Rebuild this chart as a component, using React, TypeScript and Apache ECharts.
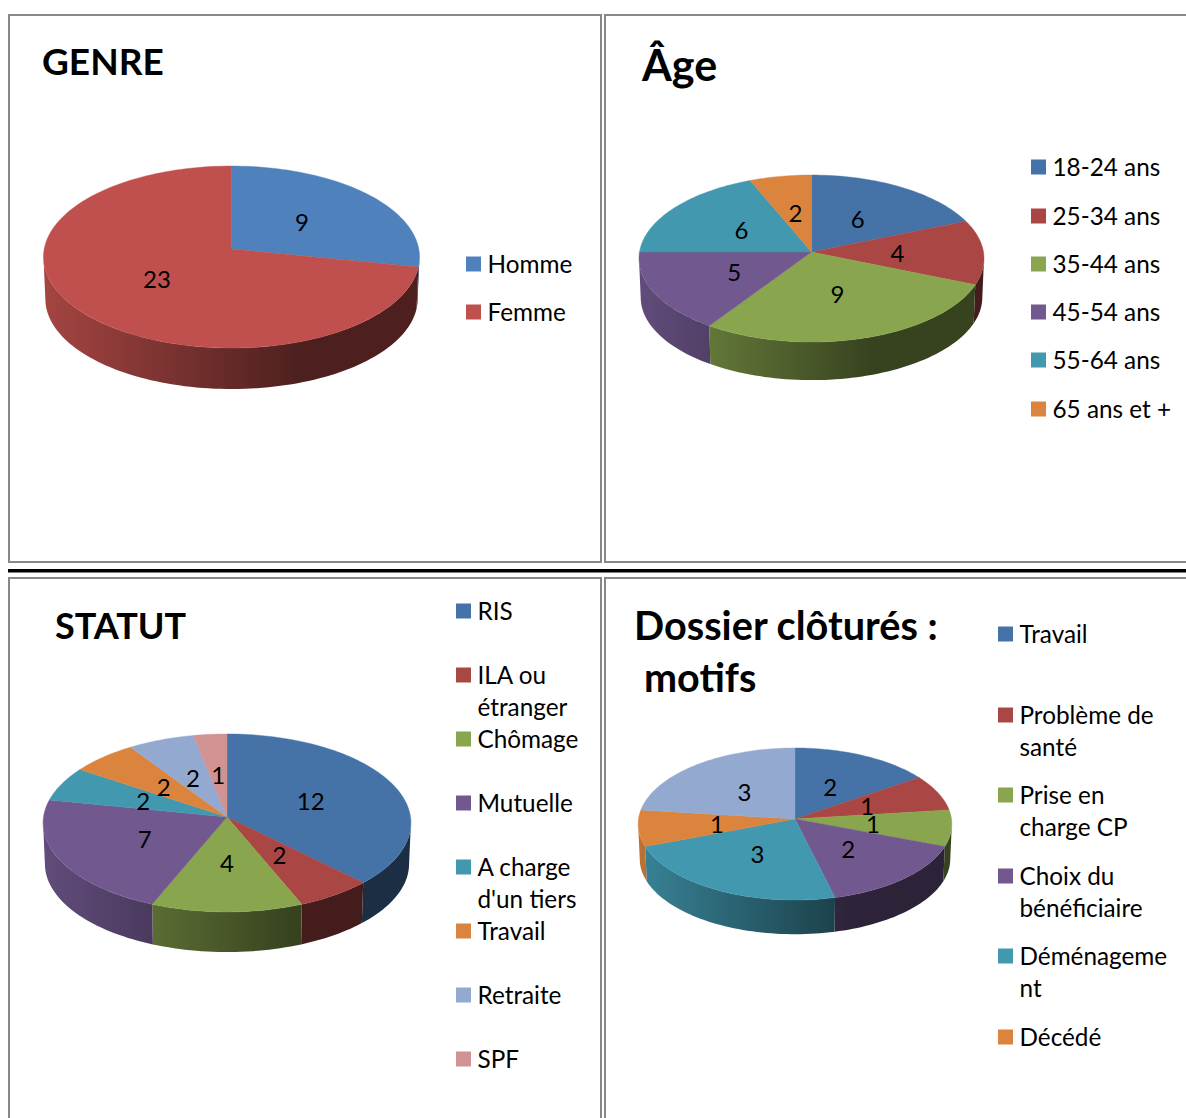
import React, { useEffect, useRef } from "react";
import * as echarts from "echarts";

const PALETTE = ["#4572A7", "#AA4643", "#89A54E", "#71588F", "#4198AF", "#DB843D", "#93A9CF", "#D19392"];

const genreCategories = ["Homme", "Femme"];
const genreValues = [9, 23];
const genreColors = ["#4F81BD", "#C0504D"];

const ageCategories = ["18-24 ans", "25-34 ans", "35-44 ans", "45-54 ans", "55-64 ans", "65 ans et +"];
const ageValues = [6, 4, 9, 5, 6, 2];

const statutCategories = ["RIS", "ILA ou\nétranger", "Chômage", "Mutuelle", "A charge\nd'un tiers", "Travail", "Retraite", "SPF"];
const statutValues = [12, 2, 4, 7, 2, 2, 2, 1];

// The seventh slice's legend row lies below the edge of the picture.
const motifsCategories = ["Travail", "Problème de\nsanté", "Prise en\ncharge CP", "Choix du\nbénéficiaire", "Déménageme\nnt", "Décédé"];
const motifsValues = [2, 1, 1, 2, 3, 1, 3];

const FONT = "Lato, 'Liberation Sans', sans-serif";

interface PieGeo {
  ax: number; ay: number; a: number; b: number; k: number; depth: number; s: number; left: number; right: number;
}

const pies: { values: number[]; colors: string[]; geo: PieGeo }[] = [
  { values: genreValues, colors: genreColors, geo: { ax: 231.5, ay: 249, a: 187.3, b: 90.3, k: 0.088, depth: 42, s: 0.99, left: 43, right: 419 } },
  { values: ageValues, colors: PALETTE, geo: { ax: 811.5, ay: 252, a: 172, b: 83, k: 0.078, depth: 39, s: 0.99, left: 639, right: 984 } },
  { values: statutValues, colors: PALETTE, geo: { ax: 227, ay: 817, a: 183.5, b: 88.6, k: 0.067, depth: 41, s: 0.99, left: 43, right: 411 } },
  { values: motifsValues, colors: PALETTE, geo: { ax: 795, ay: 819, a: 156.5, b: 75.7, k: 0.066, depth: 35, s: 0.99, left: 638, right: 951 } },
];

function project(g: PieGeo, theta: number, r: number) {
  const u = Math.sin(theta) * r;
  const v = Math.cos(theta) * r;
  const d = 1 + g.k * v;
  return { x: (g.a * u) / d, y: (-g.b * v) / d };
}

function shade(hex: string, f: number) {
  const n = parseInt(hex.slice(1), 16);
  const c = [(n >> 16) & 255, (n >> 8) & 255, n & 255].map((x) => Math.round(x * f));
  return `rgb(${c[0]},${c[1]},${c[2]})`;
}

function arc(g: PieGeo, start: number, end: number) {
  const steps = Math.max(8, Math.ceil((end - start) / 0.03));
  const pts: { x: number; y: number }[] = [];
  for (let n = 0; n <= steps; n++) pts.push(project(g, start + ((end - start) * n) / steps, 1));
  return pts;
}

function pieSeries(pie: { values: number[]; colors: string[]; geo: PieGeo }) {
  const total = pie.values.reduce((p, c) => p + c, 0);
  const g = pie.geo;
  return {
    type: "custom",
    coordinateSystem: "none",
    silent: true,
    data: pie.values.map((value, i) => ({
      value: [value, pie.values.slice(0, i).reduce((p, c) => p + c, 0)],
    })),
    renderItem(params: any, api: any) {
      const value = api.value(0);
      const before = api.value(1);
      const i = params.dataIndex;
      const start = (before / total) * Math.PI * 2;
      const end = ((before + value) / total) * Math.PI * 2;
      const color = pie.colors[i];

      const top = [[g.ax, g.ay], ...arc(g, start, end).map((p) => [g.ax + p.x, g.ay + p.y])];
      const children: any[] = [];

      // Only the part of the rim in front of the pie's widest points has a visible wall.
      const phi = Math.acos(-g.k);
      const wallStart = Math.max(start, phi);
      const wallEnd = Math.min(end, Math.PI * 2 - phi);
      if (wallEnd > wallStart) {
        const front = arc(g, wallStart, wallEnd);
        const upper = front.map((p) => [g.ax + p.x, g.ay + p.y]);
        const lower = front.map((p) => [g.ax + p.x * g.s, g.ay + g.depth + p.y * g.s]).reverse();
        children.push({
          type: "polygon",
          z2: 0,
          shape: { points: [...upper, ...lower] },
          style: {
            fill: new echarts.graphic.LinearGradient(
              g.left, 0, g.right, 0,
              [
                { offset: 0, color: shade(color, 0.86) },
                { offset: 0.68, color: shade(color, 0.4) },
                { offset: 1, color: shade(color, 0.4) },
              ],
              true
            ),
          },
        });
      }
      children.push({
        type: "polygon",
        z2: 1,
        shape: { points: top },
        style: { fill: color, stroke: color, lineWidth: 0.4 },
      });
      const mid = project(g, (start + end) / 2, 0.5);
      children.push({
        type: "text",
        z2: 10,
        style: {
          x: g.ax + mid.x,
          y: g.ay + mid.y,
          text: String(value),
          fill: "#000",
          font: `24px ${FONT}`,
          align: "center",
          verticalAlign: "middle",
        },
      });
      return { type: "group", children };
    },
  };
}

function legend(names: string[], colors: string[], swatchX: number, rows: number[]) {
  const out: any[] = [];
  names.forEach((name, i) => {
    out.push({ type: "rect", shape: { x: swatchX, y: rows[i] - 7.5, width: 15, height: 15 }, style: { fill: colors[i] } });
    name.split("\n").forEach((line, j) => {
      out.push({
        type: "text",
        style: {
          x: swatchX + 21.5,
          y: rows[i] - 1 + j * 32,
          text: line,
          fill: "#000",
          font: `24.3px ${FONT}`,
          verticalAlign: "middle",
        },
      });
    });
  });
  return out;
}

function title(text: string, x: number, y: number, size: number) {
  return {
    type: "text",
    style: { x, y, text, fill: "#000", font: `bold ${size}px ${FONT}`, verticalAlign: "middle" },
  };
}

function frame(x: number, y: number, width: number, height: number) {
  return {
    type: "rect",
    shape: { x, y, width, height },
    style: { fill: "none", stroke: "#888888", lineWidth: 2 },
  };
}

export default function App() {
  const ref = useRef<HTMLDivElement>(null);
  useEffect(() => {
    document.body.style.margin = "0";
    document.body.style.overflow = "hidden";
    const chart = echarts.init(ref.current!, null, { renderer: "svg" });
    chart.setOption({
      animation: false,
      backgroundColor: "#fff",
      series: pies.map(pieSeries),
      graphic: [
        frame(9, 15, 592, 547),
        frame(605, 15, 640, 547),
        frame(9, 578, 592, 600),
        frame(605, 578, 640, 600),
        { type: "rect", shape: { x: 8, y: 569, width: 1178, height: 3.5 }, style: { fill: "#000" } },
        title("GENRE", 42, 60, 37),
        title("Âge", 642, 64, 43),
        title("STATUT", 55, 625, 36),
        title("Dossier clôturés :", 634, 624, 39.7),
        title("motifs", 644, 676, 39.5),
        ...legend(genreCategories, genreColors, 466, [264, 312]),
        ...legend(ageCategories, PALETTE, 1031, [167, 216, 264, 312, 360, 409]),
        ...legend(statutCategories, PALETTE, 456, [611, 675, 739, 803, 867, 931, 995, 1059]),
        ...legend(motifsCategories, PALETTE, 998, [634, 715, 795, 876, 956, 1037]),
      ],
    });
    return () => chart.dispose();
  }, []);
  return <div ref={ref} style={{ position: "fixed", left: 0, top: 0, width: 1186, height: 1118 }} />;
}
